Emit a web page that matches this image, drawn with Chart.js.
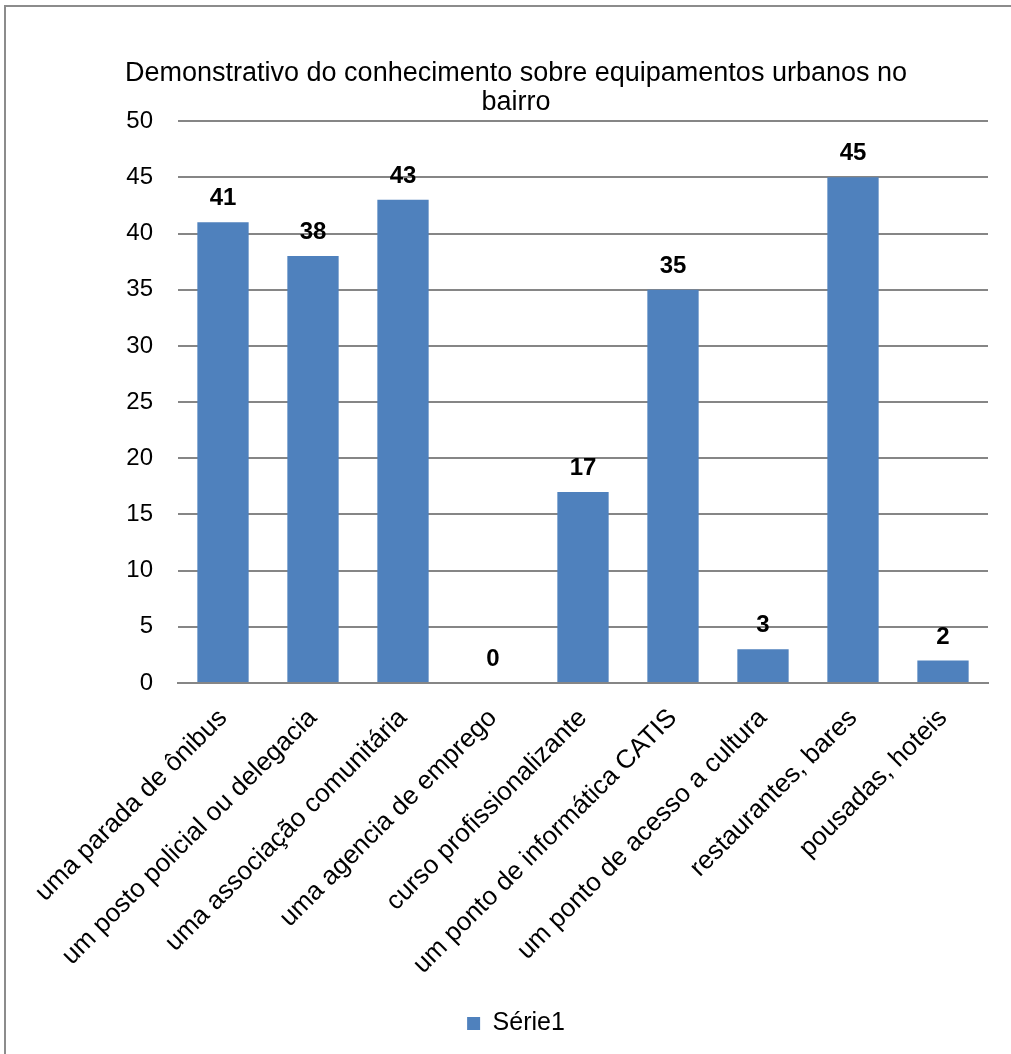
<!DOCTYPE html>
<html>
<head>
<meta charset="utf-8">
<script src="https://cdn.jsdelivr.net/npm/chart.js@4"></script>
<style>
    html, body { margin: 0; padding: 0; background: #fff; overflow: hidden; }
    #frame { position: absolute; left: 4px; top: 5px; width: 1030px; height: 1070px; border: 2px solid #8c8c8c; }
    #wrap { position: absolute; left: 0; top: 0; width: 1011px; height: 1054px; }
</style>
</head>
<body>
<div id="frame"></div>
<div id="wrap"><canvas id="bar-chart" width="1011" height="1054"></canvas></div>
<script>
"use strict";

var categories = [
    "uma parada de ônibus",
    "um posto policial ou delegacia",
    "uma associação comunitária",
    "uma agencia de emprego",
    "curso profissionalizante",
    "um ponto de informática CATIS",
    "um ponto de acesso a cultura",
    "restaurantes, bares",
    "pousadas, hoteis"
];
var serie1 = [41, 38, 43, 0, 17, 35, 3, 45, 2];
var yTicks = [0, 5, 10, 15, 20, 25, 30, 35, 40, 45, 50];

var fontFamily = "'Liberation Sans', Arial, sans-serif";

// draws the bold value above each bar
var valueLabels = {
    id: 'valueLabels',
    afterDatasetsDraw: function (chart) {
        var ctx = chart.ctx;
        ctx.save();
        ctx.font = "bold 24px " + fontFamily;
        ctx.fillStyle = "#000";
        ctx.textAlign = "center";
        ctx.textBaseline = "alphabetic";
        chart.getDatasetMeta(0).data.forEach(function (bar, i) {
            ctx.fillText(String(serie1[i]), bar.x, bar.y - 17);
        });
        ctx.restore();
    }
};

var barChartData = {
    labels: categories,
    datasets: [{
        label: "Série1",
        backgroundColor: "#4F81BD",
        borderWidth: 0,
        data: serie1,
        barPercentage: 1,
        categoryPercentage: 0.57
    }]
};

new Chart(document.getElementById("bar-chart"), {
    type: 'bar',
    data: barChartData,
    plugins: [valueLabels],
    options: {
        responsive: false,
        animation: false,
        layout: { padding: { left: 44, right: 23, top: 0, bottom: 8 } },
        plugins: {
            title: {
                display: true,
                text: ["Demonstrativo do conhecimento sobre equipamentos urbanos no", "bairro"],
                color: "#000",
                font: { family: fontFamily, size: 27, weight: 'normal', lineHeight: 1.04 },
                padding: { top: 60, bottom: 5 }
            },
            legend: {
                position: 'bottom',
                labels: {
                    color: "#000",
                    font: { family: fontFamily, size: 25 },
                    boxWidth: 13,
                    boxHeight: 13,
                    padding: 8
                }
            },
            tooltip: { enabled: false }
        },
        scales: {
            x: {
                afterFit: function (scale) { scale.height = 320; },
                grid: { display: false },
                border: { display: true, color: "#868686", width: 2 },
                ticks: {
                    color: "#000",
                    font: { family: fontFamily, size: 26 },
                    maxRotation: 45,
                    minRotation: 45,
                    padding: 12
                }
            },
            y: {
                min: 0,
                max: 50,
                afterFit: function (scale) { scale.width = 134; },
                afterBuildTicks: function (scale) {
                    scale.ticks = yTicks.map(function (v) { return { value: v }; });
                },
                grid: { color: "#868686", lineWidth: 2, drawTicks: false },
                border: { display: false },
                ticks: {
                    color: "#000",
                    font: { family: fontFamily, size: 24 },
                    padding: 25
                }
            }
        }
    }
});
</script>
</body>
</html>
